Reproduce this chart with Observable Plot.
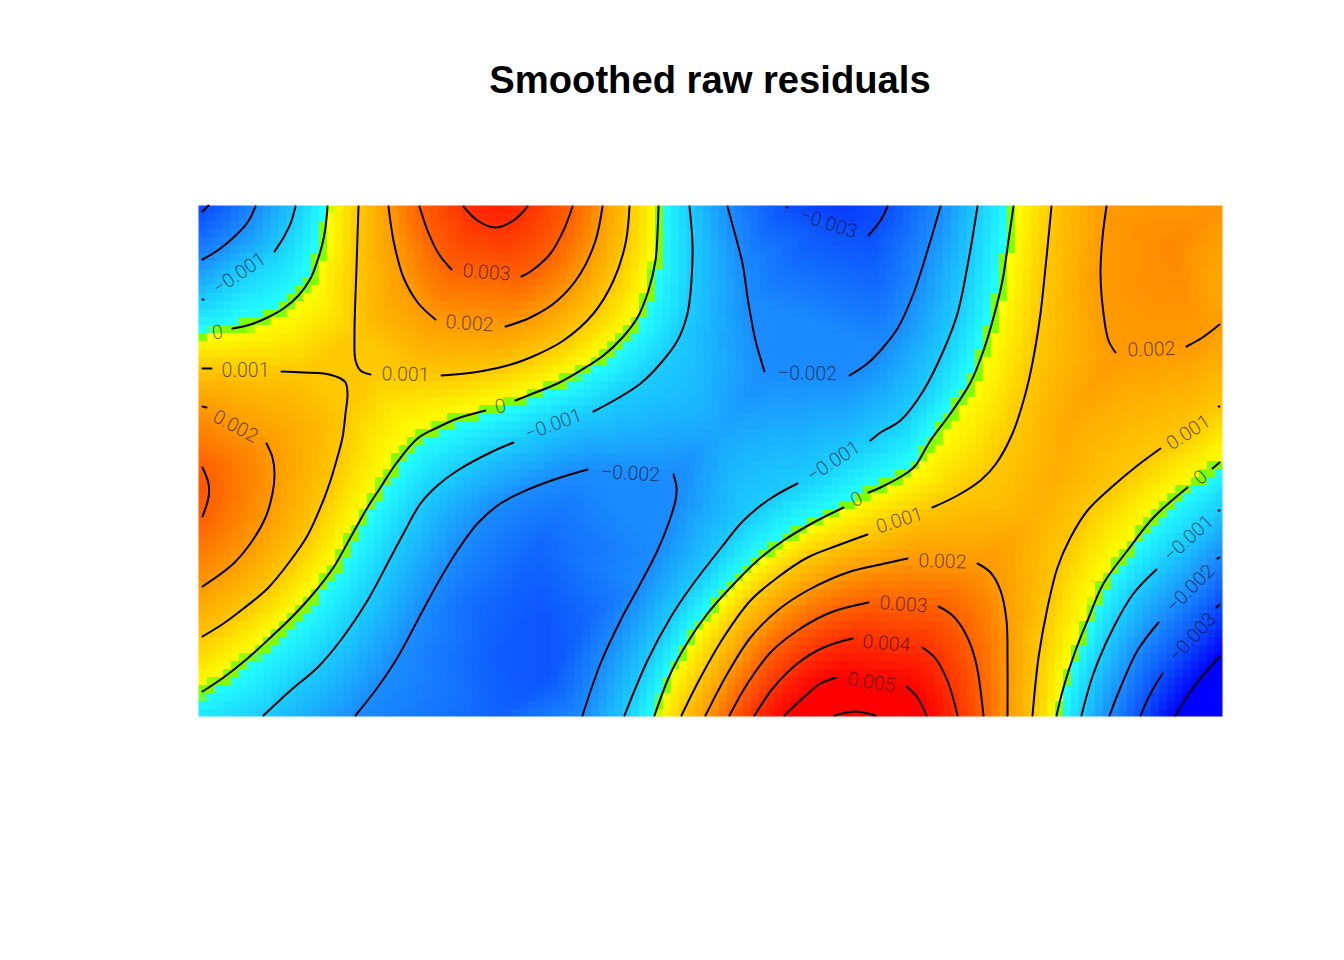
<!DOCTYPE html>
<html>
<head>
<meta charset="utf-8">
<script src="https://cdn.jsdelivr.net/npm/d3@7"></script>
<script src="https://cdn.jsdelivr.net/npm/@observablehq/plot@0.6"></script>
<style>
html,body{margin:0;padding:0;background:#fff;overflow:hidden}
#title{box-sizing:border-box;width:1344px;height:160px;padding-left:76px;text-align:center;
font:bold 38.2px/160px "Liberation Sans",Arial,sans-serif;color:#000}
svg{display:block}
</style>
</head>
<body>
<div id="title">Smoothed raw residuals</div>
<div id="chart"></div>
<script>
const titleText = "Smoothed raw residuals";
// Field coordinates: x 0..1024, y 0..511. Each level lists its traced iso-line pieces.
const levelM004 = [[[977,1],[995,29],[1021,60]]];
const levelM003 = [
  [[4,505],[10,511]],
  [[588,509],[589,509]],
  [[670,481],[682,496],[689,510]],
  [[942,1],[952,23],[964,43]],
  [[1018,109],[1021,112]]
];
const levelM002 = [
  [[4,457],[19,466],[35,479],[49,494],[57,510]],
  [[157,1],[179,29],[199,59],[219,96],[239,133],[259,166],[279,193],[302,213],[332,228],[359,238],[389,247]],
  [[475,242],[478,229],[477,216],[470,193],[459,166],[442,133],[422,96],[402,53],[384,1]],
  [[529,510],[535,488],[544,453],[550,413],[557,376],[566,345]],
  [[651,341],[669,353],[682,366],[699,388],[715,423],[729,466],[742,510]],
  [[911,1],[922,29],[939,66],[960,94]],
  [[1019,158],[1021,159]]
];
const levelM001 = [
  [[97,510],[92,493],[85,479],[76,465]],
  [[4,417],[5,417]],
  [[65,1],[92,26],[119,49],[142,76],[169,116],[189,153],[205,183],[222,213],[239,231],[259,246],[292,264],[315,274]],
  [[395,305],[419,318],[442,333],[462,353],[479,376],[489,403],[493,436],[494,473],[491,510]],
  [[779,510],[770,456],[759,403],[745,366],[725,326],[702,296],[682,284],[672,276]],
  [[599,233],[572,218],[545,196],[522,168],[492,129],[472,99],[449,56],[426,1]],
  [[883,1],[895,43],[915,89],[935,123],[958,147]],
  [[1020,206],[1021,206]]
];
const level000 = [
  [[129,510],[127,489],[124,473],[119,456],[112,438],[100,421],[85,408],[69,399],[52,392],[34,388]],
  [[4,25],[25,39],[49,58],[72,79],[95,101],[115,123],[135,149],[152,179],[169,209],[182,229],[197,252],[219,278],[239,289],[259,298],[287,306]],
  [[317,316],[332,322],[359,333],[382,346],[405,361],[424,379],[439,399],[450,426],[457,456],[459,483],[460,510]],
  [[815,510],[810,476],[804,436],[795,399],[785,366],[772,334],[752,303],[732,276],[717,251],[709,244],[682,229],[670,224]],
  [[645,209],[615,194],[585,176],[559,156],[532,129],[509,103],[489,74],[472,43],[456,1]],
  [[858,1],[865,29],[877,66],[889,96],[905,133],[929,166],[955,199],[989,229]],
  [[1014,248],[1021,254]]
];
const levelP001 = [
  [[4,348],[13,348]],
  [[83,345],[105,344],[125,343],[140,339],[147,334],[149,323],[147,303],[144,279],[138,256],[131,233],[124,214],[109,181],[92,156],[69,128],[45,108],[25,93],[4,80]],
  [[160,510],[158,449],[156,383],[157,356],[162,346],[172,342]],
  [[243,341],[275,344],[309,351],[332,359],[365,376],[395,403],[415,436],[427,473],[431,510]],
  [[483,1],[502,39],[525,79],[552,116],[579,139],[609,159],[639,171],[669,182]],
  [[734,209],[759,221],[782,236],[797,252],[814,283],[827,323],[835,359],[842,403],[847,449],[853,510]],
  [[962,268],[939,251],[915,231],[889,206],[872,179],[859,149],[849,109],[840,59],[834,1]],
  [[1020,310],[1021,310]]
];
const levelP002 = [
  [[4,310],[8,309]],
  [[68,273],[74,259],[76,243],[74,223],[67,199],[54,176],[35,153],[4,130]],
  [[190,510],[195,476],[205,439],[220,413],[237,397]],
  [[307,390],[332,399],[359,416],[382,443],[397,476],[404,510]],
  [[507,1],[529,43],[552,79],[579,106],[609,126],[649,144],[682,152],[709,158]],
  [[779,153],[792,144],[802,126],[808,96],[809,56],[809,1]],
  [[908,510],[904,479],[902,443],[905,403],[910,376],[917,364]],
  [[988,370],[1004,379],[1021,392]]
];
const levelP003 = [
  [[4,249],[10,233],[10,219],[4,200]],
  [[221,510],[229,486],[240,463],[253,447]],
  [[323,440],[332,445],[352,463],[365,486],[374,510]],
  [[531,1],[549,33],[572,64],[599,86],[632,104],[670,114]],
  [[740,110],[754,101],[767,83],[777,56],[785,1]]
];
const levelP004 = [
  [[265,510],[279,496],[297,489],[315,496],[329,510]],
  [[556,1],[575,29],[599,53],[625,69],[654,78]],
  [[724,69],[737,58],[750,33],[759,1]]
];
const levelP005 = [
  [[586,1],[605,19],[622,33],[638,39]],
  [[708,30],[719,19],[728,1]]
];
const levelP006 = [[[636,1],[657,5],[677,1]]];
const levelTable = [
  [-0.004,levelM004],[-0.003,levelM003],[-0.002,levelM002],[-0.001,levelM001],[0,level000],
  [0.001,levelP001],[0.002,levelP002],[0.003,levelP003],[0.004,levelP004],[0.005,levelP005],[0.006,levelP006]
];
// x, y, value of labelled points on the iso-lines, with the label's angle
const labelRows = [
  [41,443,-0.001,-34],[19,384,0,-8],[47,346,0.001,0],[37,290,0.002,28],[207,342,0.001,1],
  [271,393,0.002,4],[288,444,0.003,4],[302,310,0,-12],[355,292,-0.001,-20],[609,343,-0.002,1],
  [630,493,-0.003,18],[432,243,-0.002,3],[635,255,-0.001,-33],[658,217,0,-25],[953,367,0.002,-2],
  [990,284,0.001,-33],[1002,239,0,-40],[990,178,-0.001,-42],[992,128,-0.002,-45],[994,79,-0.003,-47],
  [701,196,0.001,-18],[744,155,0.002,2],[705,112,0.003,4],[688,73,0.004,5],[673,34,0.005,8]
];
const extraRows = [
  [0,511,-0.0032],[1024,511,0.0021],[0,0,-0.0005],[1024,0,-0.0052],[0,225,0.0032],[0,382,0],
  [297,511,0.0044],[657,0,0.0062],[640,511,-0.0033],[975,470,0.0023],
  [345,100,-0.0029],[300,1,-0.0027],[310,120,-0.0027],[350,40,-0.0029],[300,60,-0.0028],[270,110,-0.0025],[390,100,-0.0026],[340,170,-0.0026],
  [152,340,0.00105],[860,250,0.0016],[870,300,0.0017],[835,200,0.0015],[825,80,0.0014],[520,285,-0.0016],[1024,430,0.0016]
];
const colorStops = [-0.004,-0.003,-0.002,-0.001,-0.00012,-0.00011,0.0001,0.00011,0.001,0.002,0.003,0.004,0.005];
const colorRange = ["#0000ff","#0b4fff","#1a8cff","#1accff","#22ffff","#7fff00","#7fff00","#ffff00","#ffc800","#ff9a00","#ff6000","#ff3000","#ff0000"];

const fmt = v => (v < 0 ? "\u2212" : "") + Math.abs(v).toString();
const lineRows = [];
const samples = [];
let id = 0;
for (const [level, pieces] of levelTable) {
  for (const piece of pieces) {
    id++;
    for (const [x, y] of piece) {
      lineRows.push({x, y, id});
      samples.push({x, y, v: level});
    }
  }
}
const labels = labelRows.map(([x, y, v, r]) => ({x, y, v, r, t: fmt(v)}));
for (const l of labels) samples.push({x: l.x, y: l.y, v: l.v});
for (const [x, y, v] of extraRows) samples.push({x, y, v});

const chart = Plot.plot({
  width: 1344,
  height: 800,
  marginLeft: 198,
  marginRight: 122,
  marginTop: 45,
  marginBottom: 244,
  x: {domain: [0, 1024], axis: null},
  y: {domain: [0, 511], axis: null},
  color: {type: "linear", domain: colorStops, range: colorRange, interpolate: "rgb", clamp: true},
  marks: [
    Plot.raster(samples, {
      x: "x", y: "y", fill: "v", interpolate: "barycentric", pixelSize: 8,
      x1: 0, x2: 1024, y1: 0, y2: 511, imageRendering: "pixelated"
    }),
    Plot.line(lineRows, {x: "x", y: "y", z: "id", stroke: "#000", strokeWidth: 2, curve: "catmull-rom", strokeLinecap: "round"}),
    Plot.text(labels, {
      x: "x", y: "y", text: "t", rotate: "r", fill: "#000", fillOpacity: 0.6,
      fontSize: 19.5, fontWeight: 300, fontFamily: "Roboto,'Liberation Sans',Arial,sans-serif", textAnchor: "middle"
    })
  ]
});
document.getElementById("chart").appendChild(chart);
</script>
</body>
</html>
